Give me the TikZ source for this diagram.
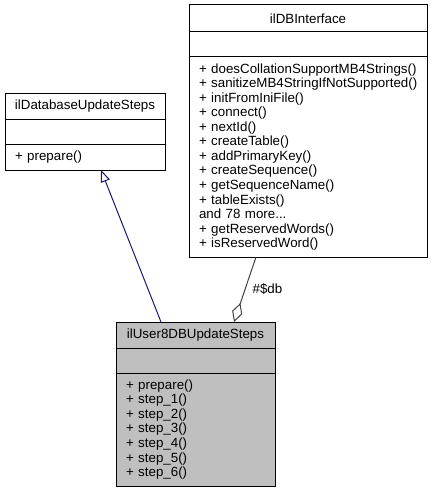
\documentclass[tikz,border=0pt]{standalone}
\usepackage{fontspec}
\setmainfont{Liberation Sans}
\usetikzlibrary{positioning,arrows.meta,calc}

\definecolor{edgeblue}{RGB}{25,25,112}
\definecolor{edgegray}{RGB}{64,64,64}
\definecolor{classgray}{RGB}{191,191,191}
\newcommand{\umlfont}{\fontsize{10}{10.9}\selectfont\hyphenpenalty=10000\exhyphenpenalty=10000}

\tikzset{
    classname/.style={draw=black, line width=0.75pt, outer sep=0pt, inner sep=0pt,
        minimum height=19.5pt, align=center, font=\umlfont},
    classattr/.style={draw=black, line width=0.75pt, outer sep=0pt, inner sep=0pt,
        minimum height=18.75pt},
    classops/.style={draw=black, line width=0.75pt, outer sep=0pt, inner xsep=7.5pt,
        inner ysep=0pt, align=left, font=\umlfont, execute at begin node=\umlfont},
    inherit/.style={edgeblue, line width=0.75pt,
        -{Triangle[open, length=9pt, width=7pt, fill=white]}},
    aggregate/.style={edgegray, line width=0.75pt,
        {Diamond[open, length=15pt, width=8pt, fill=white]}-}
}

\begin{document}
\begin{tikzpicture}[x=0.75pt, y=-0.75pt]
    \useasboundingbox (0,0) rectangle (431,492);

    % ilDBInterface
    \node[classname, minimum width=178.5pt, minimum height=20.25pt, anchor=north west]
        (dbname) at (189,5) {ilDBInterface};
    \node[classattr, minimum width=178.5pt, below=0pt of dbname] (dbattr) {};
    \node[classops, text width=163.5pt, minimum height=150pt, below=0pt of dbattr] (dbops) {%
        +~doesCollationSupportMB4Strings()\\
        +~sanitizeMB4StringIfNotSupported()\\
        + initFromIniFile()\\
        + connect()\\
        + nextId()\\
        + createTable()\\
        + addPrimaryKey()\\
        + createSequence()\\
        + getSequenceName()\\
        + tableExists()\\
        and 78 more...\\
        + getReservedWords()\\
        + isReservedWord()};

    % ilDatabaseUpdateSteps
    \node[classname, minimum width=120pt, anchor=north west]
        (basename) at (5,93) {ilDatabaseUpdateSteps};
    \node[classattr, minimum width=120pt, below=0pt of basename] (baseattr) {};
    \node[classops, text width=105pt, minimum height=19.5pt, below=0pt of baseattr]
        (baseops) {+ prepare()};

    % ilUser8DBUpdateSteps
    \node[classname, fill=classgray, minimum width=119.25pt, anchor=north west]
        (username) at (116,322) {ilUser8DBUpdateSteps};
    \node[classattr, fill=classgray, minimum width=119.25pt, below=0pt of username] (userattr) {};
    \node[classops, fill=classgray, text width=104.25pt, minimum height=84.75pt,
        below=0pt of userattr] (userops) {%
        + prepare()\\
        + step\_1()\\
        + step\_2()\\
        + step\_3()\\
        + step\_4()\\
        + step\_5()\\
        + step\_6()};

    % connectors
    \draw[inherit] ($(username.north west)+(45,0)$) -- ($(baseops.south west)+(96,0)$);
    \draw[aggregate] ($(username.north west)+(118,0)$) -- ($(dbops.south west)+(67,0)$)
        node[pos=0.5, right=2pt, font=\umlfont, text=black] (dblabel) {\#\$db};
\end{tikzpicture}
\end{document}
